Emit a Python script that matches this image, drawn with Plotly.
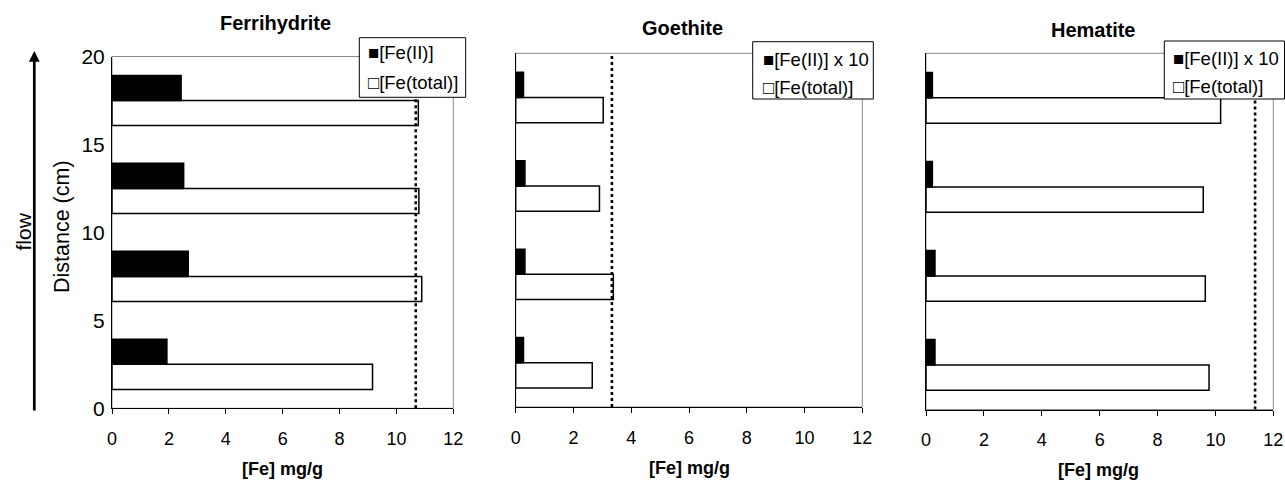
import plotly.graph_objects as go

W, H = 1285, 481

# ---------------- data ----------------
distance_cm = [2.5, 7.5, 12.5, 17.5]
panels = ["Ferrihydrite", "Goethite", "Hematite"]

ferri_fe2 = [1.93, 2.68, 2.52, 2.43]
ferri_total = [9.16, 10.89, 10.79, 10.77]

goe_fe2_x10 = [0.27, 0.32, 0.32, 0.27]
goe_total = [2.65, 3.38, 2.90, 3.03]

hem_fe2_x10 = [0.31, 0.31, 0.22, 0.22]
hem_total = [9.78, 9.65, 9.58, 10.18]

ref_line = [10.68, 3.33, 11.37]

fe2_names = ["[Fe(II)]", "[Fe(II)] x 10", "[Fe(II)] x 10"]
total_name = "[Fe(total)]"
x_ticks = [0, 2, 4, 6, 8, 10, 12]
y_ticks = [0, 5, 10, 15, 20]

fe2_sets = [ferri_fe2, goe_fe2_x10, hem_fe2_x10]
total_sets = [ferri_total, goe_total, hem_total]

# ---------------- layout helpers (pixels -> paper) ----------------
def px(x):
    return x / W

def py(y):
    return 1 - y / H

FONT = "Liberation Sans, Arial, sans-serif"

# plot-area pixel boxes (left, right, top, bottom)
boxes = [(112, 453.3, 56.5, 408.3), (515.7, 862.3, 53.3, 407.0), (926, 1273.3, 53.3, 409.5)]
title_pos = [(275, 23), (682, 28), (1093, 30)]
xtitle_pos = [(282, 469), (689, 467.5), (1098, 469.5)]
legend_boxes = [(359.3, 465.7, 37.7, 97.3), (752.7, 873.3, 41.7, 99.0), (1164.3, 1290, 41.0, 99.0)]
legend_rows = [(366, 53, 82.5), (760.7, 59.2, 87.5), (1170.7, 58.3, 86.7)]

fig = go.Figure()
shapes = []
annotations = []

for i in range(3):
    xa = "x" if i == 0 else f"x{i+1}"
    ya = "y" if i == 0 else f"y{i+1}"
    fig.add_trace(go.Bar(
        x=total_sets[i], y=distance_cm, orientation="h", name=total_name,
        marker=dict(color="white", line=dict(color="black", width=1.5)),
        xaxis=xa, yaxis=ya, showlegend=False))
    fig.add_trace(go.Bar(
        x=fe2_sets[i], y=distance_cm, orientation="h", name=fe2_names[i],
        marker=dict(color="black", line=dict(color="black", width=1.5)),
        xaxis=xa, yaxis=ya, showlegend=False))
    fig.add_trace(go.Scatter(
        x=[ref_line[i], ref_line[i]], y=[y_ticks[0], y_ticks[-1]], mode="lines",
        line=dict(color="black", width=2.6, dash="dot"),
        xaxis=xa, yaxis=ya, showlegend=False, hoverinfo="skip"))

    l, r, t, b = boxes[i]
    xkey = "xaxis" if i == 0 else f"xaxis{i+1}"
    ykey = "yaxis" if i == 0 else f"yaxis{i+1}"
    fig.update_layout(**{
        xkey: dict(domain=[px(l), px(r)], range=[0, 12], tickvals=x_ticks,
                   ticks="outside", ticklen=5, tickcolor="black", tickwidth=1,
                   showline=True, linecolor="black", linewidth=1,
                   showgrid=False, zeroline=False, anchor=ya, automargin=False,
                   tickfont=dict(family=FONT, size=18, color="black"),
                   ticklabelstandoff=9, fixedrange=True),
        ykey: dict(domain=[py(b), py(t)], range=[0, 20], tickvals=y_ticks,
                   ticks="", ticklen=0, showticklabels=(i == 0),
                   showline=True, linecolor="black", linewidth=1,
                   showgrid=False, zeroline=False, anchor=xa, automargin=False,
                   tickfont=dict(family=FONT, size=21, color="black"),
                   ticklabelstandoff=2, fixedrange=True),
    })
    # grey plot-area frame (top/right)
    shapes.append(dict(type="rect", xref=f"{xa} domain", yref=f"{ya} domain",
                       x0=0, x1=1, y0=0, y1=1, layer="below",
                       line=dict(color="#8a8a8a", width=1)))
    # panel title
    tx, ty = title_pos[i]
    annotations.append(dict(text=f"<b>{panels[i]}</b>", x=px(tx), y=py(ty),
                            xref="paper", yref="paper", showarrow=False,
                            xanchor="center", yanchor="middle",
                            font=dict(family=FONT, size=20, color="black")))
    # x-axis title
    ax_, ay_ = xtitle_pos[i]
    annotations.append(dict(text="<b>[Fe] mg/g</b>", x=px(ax_), y=py(ay_),
                            xref="paper", yref="paper", showarrow=False,
                            xanchor="center", yanchor="middle",
                            font=dict(family=FONT, size=18, color="black")))
    # legend box
    bl, br, bt, bb = legend_boxes[i]
    shapes.append(dict(type="rect", xref="paper", yref="paper",
                       x0=px(bl), x1=px(min(br, W - 0.5)), y0=py(bb), y1=py(bt), layer="above",
                       fillcolor="white", line=dict(color="black", width=1)))
    lx, r1, r2 = legend_rows[i]
    annotations.append(dict(text="\u25a0" + fe2_names[i], x=px(lx), y=py(r1),
                            xref="paper", yref="paper", showarrow=False,
                            xanchor="left", yanchor="middle",
                            font=dict(family=FONT, size=18.5, color="black")))
    annotations.append(dict(text="\u25a1" + total_name, x=px(lx), y=py(r2),
                            xref="paper", yref="paper", showarrow=False,
                            xanchor="left", yanchor="middle",
                            font=dict(family=FONT, size=18.5, color="black")))

# y-axis title, flow label and arrow
annotations.append(dict(text="Distance (cm)", x=px(62), y=py(227), xref="paper", yref="paper",
                        showarrow=False, textangle=-90, xanchor="center", yanchor="middle",
                        font=dict(family=FONT, size=21.5, color="black")))
annotations.append(dict(text="flow", x=px(22.5), y=py(232), xref="paper", yref="paper",
                        showarrow=False, textangle=-90, xanchor="center", yanchor="middle",
                        font=dict(family=FONT, size=21, color="black")))
annotations.append(dict(text="", x=px(34.3), y=py(51), xref="paper", yref="paper",
                        showarrow=True, ax=0, ay=361, axref="pixel", ayref="pixel",
                        arrowhead=2, arrowsize=0.8, arrowwidth=2.7, arrowcolor="black"))

fig.update_layout(
    width=W, height=H,
    margin=dict(l=0, r=0, t=0, b=0, autoexpand=False),
    paper_bgcolor="white", plot_bgcolor="white",
    barmode="group", bargap=0.43, bargroupgap=0,
    shapes=shapes, annotations=annotations,
    showlegend=False,
    font=dict(family=FONT, color="black"),
)

fig.write_html("out.html")
